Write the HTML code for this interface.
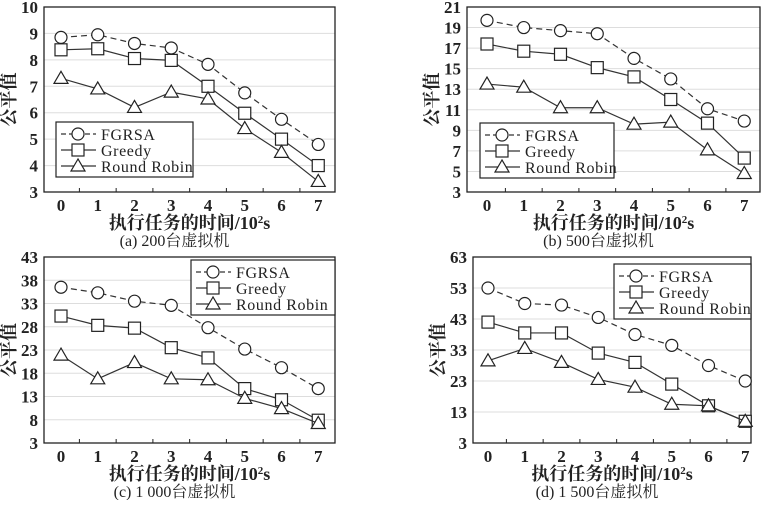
<!DOCTYPE html>
<html><head><meta charset="utf-8"><style>
body{margin:0;background:#fff;}
text{font-family:"Liberation Serif","DejaVu Serif","Noto Serif CJK SC",serif;fill:#222;}
</style></head><body>
<svg id="s" width="764" height="500"></svg>
<script>
const xCats=[0,1,2,3,4,5,6,7];
const seriesNames=["FGRSA","Greedy","Round Robin"];
const aF=[8.85,8.95,8.62,8.45,7.83,6.75,5.75,4.8];
const aG=[8.38,8.42,8.05,7.98,7.0,5.98,5.0,4.0];
const aR=[7.3,6.9,6.2,6.78,6.52,5.4,4.5,3.4];
const aTicks=[3,4,5,6,7,8,9,10];
const bF=[19.7,19.0,18.7,18.4,16.0,14.0,11.1,9.9];
const bG=[17.4,16.7,16.4,15.1,14.2,12.0,9.7,6.3];
const bR=[13.5,13.2,11.2,11.2,9.6,9.8,7.1,4.8];
const bTicks=[3,5,7,9,11,13,15,17,19,21];
const cF=[36.5,35.3,33.5,32.6,27.8,23.2,19.2,14.7];
const cG=[30.3,28.3,27.7,23.5,21.3,14.7,12.3,7.9];
const cR=[21.9,16.8,20.3,16.8,16.6,12.6,10.4,7.2];
const cTicks=[3,8,13,18,23,28,33,38,43];
const dF=[53,48,47.5,43.5,38,34.5,28,23];
const dG=[42,38.5,38.5,32,29,22,15,10];
const dR=[29.5,33.5,29,23.5,21,15.5,15,10];
const dTicks=[3,13,23,33,43,53,63];

const NS="http://www.w3.org/2000/svg";
const FF='"Liberation Serif","DejaVu Serif","Noto Serif CJK SC",serif';
const svg=document.getElementById('s');
function mk(t,a,p){const e=document.createElementNS(NS,t);for(const k in a)e.setAttribute(k,a[k]);if(t==='text')e.setAttribute('font-family',FF);(p||svg).appendChild(e);return e;}
function marker(g,type,x,y){
  if(type===0)return mk('circle',{cx:x,cy:y,r:6,fill:'#fff',stroke:'#222','stroke-width':1.2},g);
  if(type===1)return mk('rect',{x:x-6,y:y-6,width:12,height:12,fill:'#fff',stroke:'#222','stroke-width':1.2},g);
  return mk('polygon',{points:`${x},${y-7} ${x-7},${y+5} ${x+7},${y+5}`,fill:'#fff',stroke:'#222','stroke-width':1.2},g);
}
function panel(id,L,R,T,B,x0,ticks,series,leg,caption){
  const g=mk('g',{});
  
  
  const ymin=ticks[0],ymax=ticks[ticks.length-1];
  const sx=i=>x0+i*36.75;
  const sy=v=>B-(v-ymin)/(ymax-ymin)*(B-T);
  ticks.forEach(t=>{
    if(t!==ymin&&t!==ymax){const gl=mk('line',{x1:L,x2:R,y1:sy(t),y2:sy(t),stroke:'#ddd','stroke-width':1},g);
    }
    const tl=mk('text',{x:L-6,y:sy(t)+6,'text-anchor':'end','font-size':17,'font-weight':'bold'},g);
    tl.textContent=t;
    
  });
  const box=mk('rect',{x:L,y:T,width:R-L,height:B-T,fill:'none',stroke:'#222','stroke-width':1.3},g);
  
  xCats.forEach((c,i)=>{
    if(i<xCats.length-1)mk('line',{x1:sx(i)+18.4,x2:sx(i)+18.4,y1:B,y2:B-4,stroke:'#222'},g);
    const tl=mk('text',{x:sx(i),y:B+19,'text-anchor':'middle','font-size':17,'font-weight':'bold'},g);
    tl.textContent=c;
    
  });
  series.forEach((d,k)=>{
    const pl=mk('polyline',{points:d.map((v,i)=>sx(i)+','+sy(v)).join(' '),fill:'none',stroke:'#333','stroke-width':1.2,'stroke-dasharray':k===0?'6,4':'none'},g);
    
    
    d.forEach((v,i)=>{const m=marker(g,k,sx(i),sy(v));
      
      });
  });
  const lg=mk('g',{},g);
  
  mk('rect',{x:leg[0],y:leg[1],width:leg[2],height:55,fill:'#fff',stroke:'#222','stroke-width':1.2},lg);
  seriesNames.forEach((n,k)=>{
    const y=leg[1]+12+k*16;
    mk('line',{x1:leg[0]+5,x2:leg[0]+40,y1:y,y2:y,stroke:'#333','stroke-width':1.2,'stroke-dasharray':k===0?'5,3':'none'},lg);
    marker(lg,k,leg[0]+22,y);
    const t=mk('text',{x:leg[0]+45,y:y+6,'font-size':16,'letter-spacing':'0.6'},lg);
    t.textContent=n;
    
  });
  const yl=mk('text',{x:0,y:0,'font-size':18,'font-weight':'bold','text-anchor':'middle',transform:`translate(${L-29},${(T+B)/2}) rotate(-90)`},g);
  yl.textContent='公平值';
  
  const xt=mk('text',{x:(L+R)/2,y:B+37,'text-anchor':'middle','font-size':18,'font-weight':'bold'},g);
  xt.innerHTML='执行任务的时间/10<tspan font-size="11" dy="-6">2</tspan><tspan dy="6">s</tspan>';
  
  const cp=mk('text',{x:(L+R)/2-15,y:B+54,'text-anchor':'middle','font-size':16},g);
  cp.textContent=caption;
  
}
panel('a',44,335,7,192,61,aTicks,[aF,aG,aR],[56,122,137],'(a) 200台虚拟机');
panel('b',467,760,7,192,487,bTicks,[bF,bG,bR],[480,123,134],'(b) 500台虚拟机');
panel('c',44,335,257,443,61,cTicks,[cF,cG,cR],[191,260,144],'(c) 1 000台虚拟机');
panel('d',473,751,257,443,488,dTicks,[dF,dG,dR],[614,264,137],'(d) 1 500台虚拟机');
</script>
</body></html>
